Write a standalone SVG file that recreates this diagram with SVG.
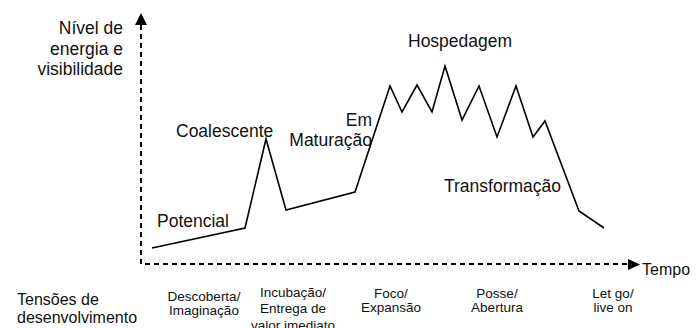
<svg xmlns="http://www.w3.org/2000/svg" width="696" height="328" viewBox="0 0 696 328">
<defs>
<style>
text{font-family:"Liberation Sans",Arial,sans-serif;fill:#111;}
.big{font-size:17.5px;}
.mid{font-size:16px;}
.sm{font-size:13.5px;text-anchor:middle;}
.axis{fill:none;stroke:#000;stroke-width:2;stroke-dasharray:5 4;}
.curve{fill:none;stroke:#000;stroke-width:1.6;stroke-linejoin:miter;}
</style>
</defs>
<rect width="696" height="328" fill="#fff"/>
<g id="connectors">
<path class="axis" d="M141,25 V264 H628"/>
<polygon points="141,13 135,25 147,25" fill="#000"/>
<polygon points="640,264.5 628,259 628,270" fill="#000"/>
<polyline class="curve" points="152,248 245,228 266,139 286,210 355,192 390,86 402,112 417,85 432,112 445,66 462,120 479,86 497,137 516,86 533,137 545,121 579,211 604,228"/>
</g>
<g id="y-label"><text class="big" text-anchor="end" x="123" y="34">Nível de</text><text class="big" text-anchor="end" x="123" y="55">energia e</text><text class="big" text-anchor="end" x="123" y="75">visibilidade</text></g>
<g id="x-label"><text class="mid" x="642" y="275">Tempo</text></g>
<g id="potencial"><text class="big" x="157" y="227">Potencial</text></g>
<g id="coalescente"><text class="big" x="176" y="137">Coalescente</text></g>
<g id="maturacao"><text class="big" text-anchor="end" x="372" y="126">Em</text><text class="big" text-anchor="end" x="372" y="146">Maturação</text></g>
<g id="hospedagem"><text class="big" x="408" y="47">Hospedagem</text></g>
<g id="transformacao"><text class="big" x="444" y="192">Transformação</text></g>
<g id="tensoes"><text class="mid" x="17" y="305">Tensões de</text><text class="mid" x="17" y="323">desenvolvimento</text></g>
<g id="descoberta"><text class="sm" x="204" y="301">Descoberta/</text><text class="sm" x="204" y="315">Imaginação</text></g>
<g id="incubacao"><text class="sm" x="293" y="297">Incubação/</text><text class="sm" x="293" y="313">Entrega de</text><text class="sm" x="293" y="330">valor imediato</text></g>
<g id="foco"><text class="sm" x="391" y="298">Foco/</text><text class="sm" x="391" y="312">Expansão</text></g>
<g id="posse"><text class="sm" x="497" y="298">Posse/</text><text class="sm" x="497" y="312">Abertura</text></g>
<g id="letgo"><text class="sm" x="613" y="298">Let go/</text><text class="sm" x="613" y="312">live on</text></g>
</svg>
